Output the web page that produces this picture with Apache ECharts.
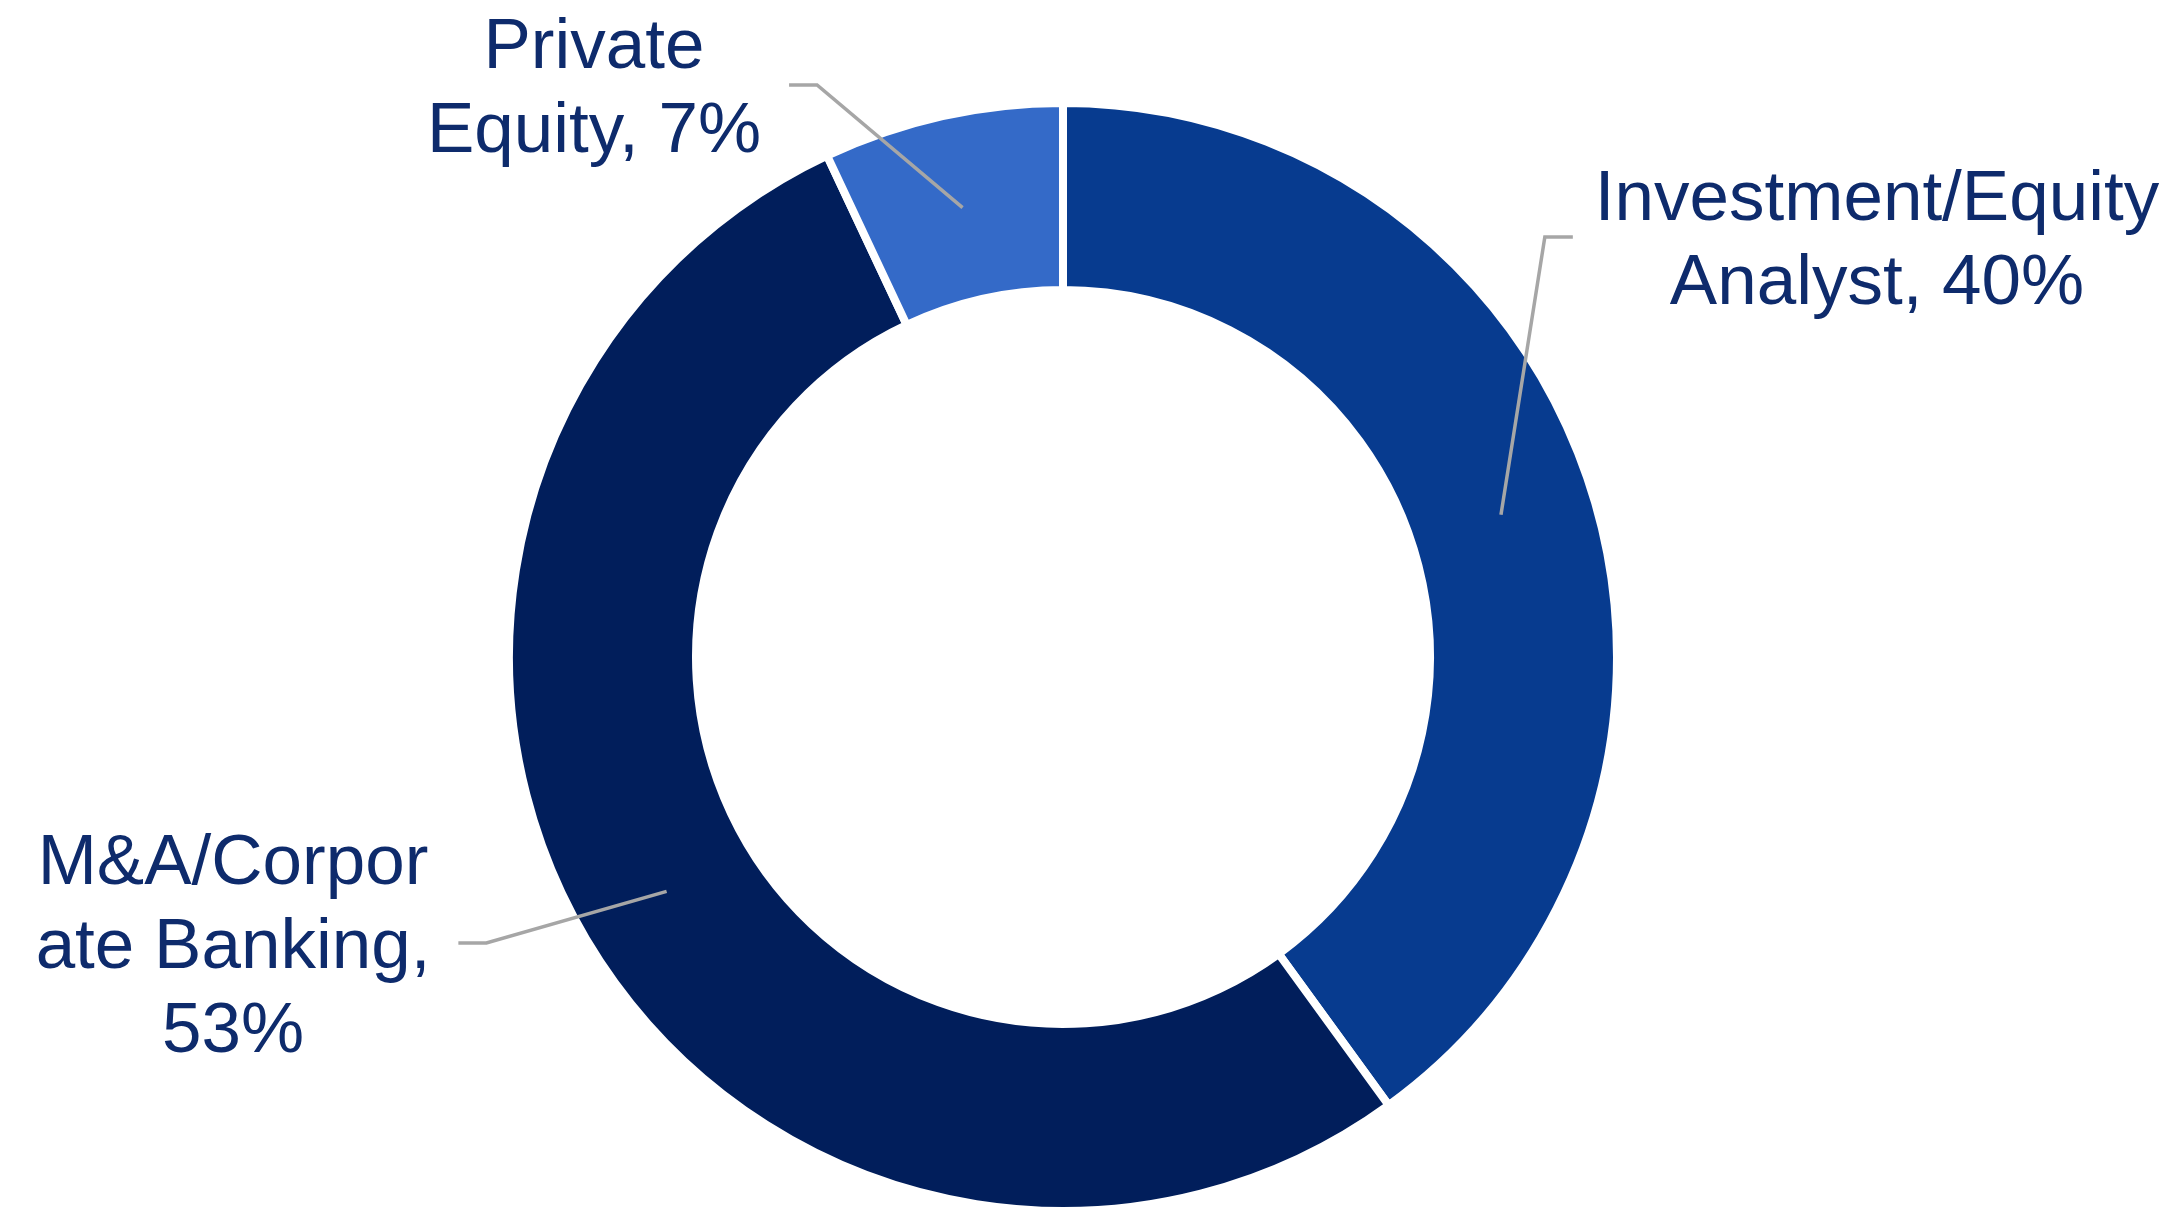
<!DOCTYPE html>
<html>
<head>
<meta charset="utf-8">
<style>
  html, body { margin: 0; padding: 0; background: #ffffff; }
  #chart { width: 2178px; height: 1208px; }
</style>
<script src="https://cdn.jsdelivr.net/npm/echarts@6/dist/echarts.min.js"></script>
</head>
<body>
<div id="chart"></div>
<script>
// ---- data ----
const categories = ['Investment/Equity Analyst', 'M&A/Corporate Banking', 'Private Equity'];
const shares = [40, 53, 7];
const labelTexts = ['Investment/Equity\nAnalyst, 40%', 'M&A/Corpor\nate Banking,\n53%', 'Private\nEquity, 7%'];
const sliceColors = ['#073B8F', '#011E5B', '#346AC8'];

// ---- layout ----
const CX = 1063, CY = 657;
const R_IN = 371, R_OUT = 550;
const START = 90;
// label block centres (layout of the text boxes)
const labelAnchors = [[1877, 242], [233, 948], [594, 90]];
const labelGaps = [22, 28, 28];
const ELBOW = 28;

const total = shares.reduce((a, b) => a + b, 0);
function midAngle(i) {
  let cum = 0;
  for (let k = 0; k < i; k++) cum += shares[k];
  return (START - 360 * (cum + shares[i] / 2) / total) * Math.PI / 180;
}

const labelBase = {
  show: true,
  position: 'outside',
  formatter: p => labelTexts[p.dataIndex],
  fontFamily: 'Liberation Sans, Arial, sans-serif',
  fontSize: 71,
  lineHeight: 84,
  align: 'center'
};

function layoutFor(withLine) {
  return function (params) {
    const i = params.dataIndex;
    const a = labelAnchors[i];
    const out = { x: a[0], y: a[1], align: 'center', verticalAlign: 'middle' };
    if (withLine) {
      const w = params.labelRect.width;
      const ang = midAngle(i);
      const rMid = (R_IN + R_OUT) / 2;
      const p0 = [CX + rMid * Math.cos(ang), CY - rMid * Math.sin(ang)];
      const right = a[0] > CX;
      const endX = right ? a[0] - w / 2 - labelGaps[i] : a[0] + w / 2 + labelGaps[i];
      const elbowX = right ? endX - ELBOW : endX + ELBOW;
      const ly = a[1] - 5;
      out.labelLinePoints = [p0, [elbowX, ly], [endX, ly]];
    }
    return out;
  };
}

const chart = echarts.init(document.getElementById('chart'), null, { renderer: 'canvas' });
chart.setOption({
  backgroundColor: '#ffffff',
  animation: false,
  series: [{
    type: 'pie',
    z: 2,
    center: [CX, CY],
    radius: [R_IN - 4, R_OUT + 4],
    startAngle: START,
    clockwise: true,
    avoidLabelOverlap: false,
    itemStyle: { borderColor: '#ffffff', borderWidth: 8 },
    label: Object.assign({}, labelBase, { color: '#0E2B6C' }),
    labelLine: { show: false },
    labelLayout: layoutFor(false),
    data: categories.map((c, i) => ({
      name: c,
      value: shares[i],
      itemStyle: { color: sliceColors[i] }
    }))
  }, {
    // overlay series that only carries the leader lines above the ring
    type: 'pie',
    z: 5,
    silent: true,
    center: [CX, CY],
    radius: [R_IN - 4, R_OUT + 4],
    startAngle: START,
    clockwise: true,
    avoidLabelOverlap: false,
    itemStyle: { color: 'rgba(0,0,0,0)', borderWidth: 0 },
    label: Object.assign({}, labelBase, { color: 'rgba(0,0,0,0)' }),
    labelLine: {
      show: true,
      showAbove: true,
      length: 20,
      length2: 20,
      lineStyle: { color: '#A6A6A6', width: 3.5 }
    },
    labelLayout: layoutFor(true),
    data: categories.map((c, i) => ({ name: c, value: shares[i] }))
  }]
});
</script>
</body>
</html>
